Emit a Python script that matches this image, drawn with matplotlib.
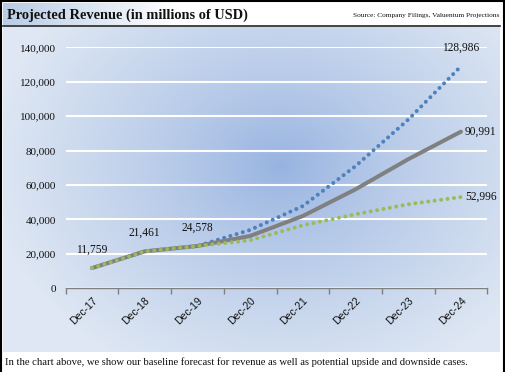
import numpy as np
import matplotlib.pyplot as plt
from matplotlib.ticker import FuncFormatter, FixedLocator

years = ["Dec-17", "Dec-18", "Dec-19", "Dec-20", "Dec-21", "Dec-22", "Dec-23", "Dec-24"]
baseline = [11759, 21461, 24578, 30400, 42000, 57500, 75000, 90991]
upside = [11759, 21461, 24578, 33900, 47800, 71000, 98000, 128986]
downside = [11759, 21461, 24578, 27900, 36600, 43000, 48800, 52996]

W, H = 505, 372
SERIF = "Liberation Serif"

fig = plt.figure(figsize=(W / 100, H / 100), dpi=100)
fig.patch.set_facecolor("white")

# background layer in pixel coordinates
bg = fig.add_axes([0, 0, 1, 1])
bg.set_xlim(0, W)
bg.set_ylim(H, 0)
bg.axis("off")

# chart panel with radial gradient
yy, xx = np.mgrid[27:352, 3:500]
d = np.sqrt(((xx - 280) / 290.0) ** 2 + ((yy - 165) / 230.0) ** 2)
t = np.clip(d, 0, 1) ** 0.8
edge = np.array([222, 231, 243]) / 255
mid = np.array([150, 178, 224]) / 255
img = mid[None, None, :] * (1 - t[..., None]) + edge[None, None, :] * t[..., None]
bg.imshow(img, extent=[3, 500, 352, 27], aspect="auto", zorder=0)

# title bar gradient
gx = np.linspace(0, 1, 300)
gt = np.clip(gx / 0.35, 0, 1)
c0 = np.array([184, 204, 230]) / 255
c1 = np.array([255, 255, 255]) / 255
bar = c0[None, None, :] * (1 - gt[None, :, None]) + c1[None, None, :] * gt[None, :, None]
bg.imshow(bar, extent=[3, 500, 25, 3], aspect="auto", zorder=0)

bg.plot([0, W], [1, 1], color="black", lw=1.5, zorder=2)
bg.plot([1, 1], [0, H], color="black", lw=1.5, zorder=2)
bg.plot([503.5, 503.5], [0, H], color="black", lw=1.5, zorder=2)
bg.plot([3, 500], [25.5, 25.5], color="#222222", lw=1.2, zorder=2)

bg.text(7, 15, "Projected Revenue (in millions of USD)", family=SERIF,
        fontweight="bold", fontsize=10.4, ha="left", va="center", color="#111111")
bg.text(499, 16, "Source: Company Filings, Valuentum Projections", family=SERIF,
        fontsize=5.3, ha="right", va="center", color="#111111")
bg.text(5, 362, "In the chart above, we show our baseline forecast for revenue as well as "
        "potential upside and downside cases.", family=SERIF, fontsize=7.7,
        ha="left", va="center", color="#111111")

# main plot
ax = fig.add_axes([65.7 / W, 1 - 288.3 / H, (487.3 - 65.7) / W, (288.3 - 47.3) / H])
ax.set_facecolor("none")
x = np.arange(len(years))

dot = (0, (0.01, 1.6))
ax.plot(x, upside, color="#4f81bd", lw=2.9, linestyle=dot, dash_capstyle="round", zorder=3)
ax.plot(x, baseline, color="#808080", lw=2.9, solid_capstyle="round", zorder=4)
ax.plot(x, downside, color="#9bbb59", lw=2.9, linestyle=dot, dash_capstyle="round", zorder=5)

ax.set_xlim(-0.5, len(years) - 0.5)
ax.set_ylim(0, 140000)
ax.set_yticks(np.arange(0, 140001, 20000))
ax.yaxis.set_major_formatter(FuncFormatter(lambda v, p: f"{int(v):,}"))
ax.grid(axis="y", color="white", lw=1.5, zorder=1)
ax.set_axisbelow(True)

for s in ["top", "right", "left"]:
    ax.spines[s].set_visible(False)
ax.spines["bottom"].set_color("#808080")
ax.spines["bottom"].set_linewidth(1.0)

ax.set_xticks(x)
ax.set_xticklabels(years, rotation=45, ha="right", rotation_mode="anchor",
                   fontsize=7.5, family="Liberation Sans", color="#111111")
ax.tick_params(axis="x", which="major", length=0, pad=5)
ax.xaxis.set_minor_locator(FixedLocator(np.arange(-0.5, len(years), 1.0)))
ax.tick_params(axis="x", which="minor", length=4, color="#808080", width=1)
ax.tick_params(axis="y", length=0, pad=7)
for lab in ax.get_yticklabels():
    lab.set_family(SERIF)
    lab.set_fontsize(8)
    lab.set_color("#111111")

lab_kw = dict(family=SERIF, fontsize=8.3, color="#111111")
for i in range(3):
    ax.annotate(f"{baseline[i]:,}", (x[i], baseline[i]), xytext=(0, 9),
                textcoords="offset points", ha="center", va="bottom", **lab_kw)
ax.annotate(f"{upside[-1]:,}", (x[-1], upside[-1]), xytext=(0, 9),
            textcoords="offset points", ha="center", va="bottom", **lab_kw)
ax.annotate(f"{baseline[-1]:,}", (x[-1], baseline[-1]), xytext=(3, 0),
            textcoords="offset points", ha="left", va="center", **lab_kw)
ax.annotate(f"{downside[-1]:,}", (x[-1], downside[-1]), xytext=(3, 0),
            textcoords="offset points", ha="left", va="center", **lab_kw)

fig.savefig("out.png", dpi=100)
